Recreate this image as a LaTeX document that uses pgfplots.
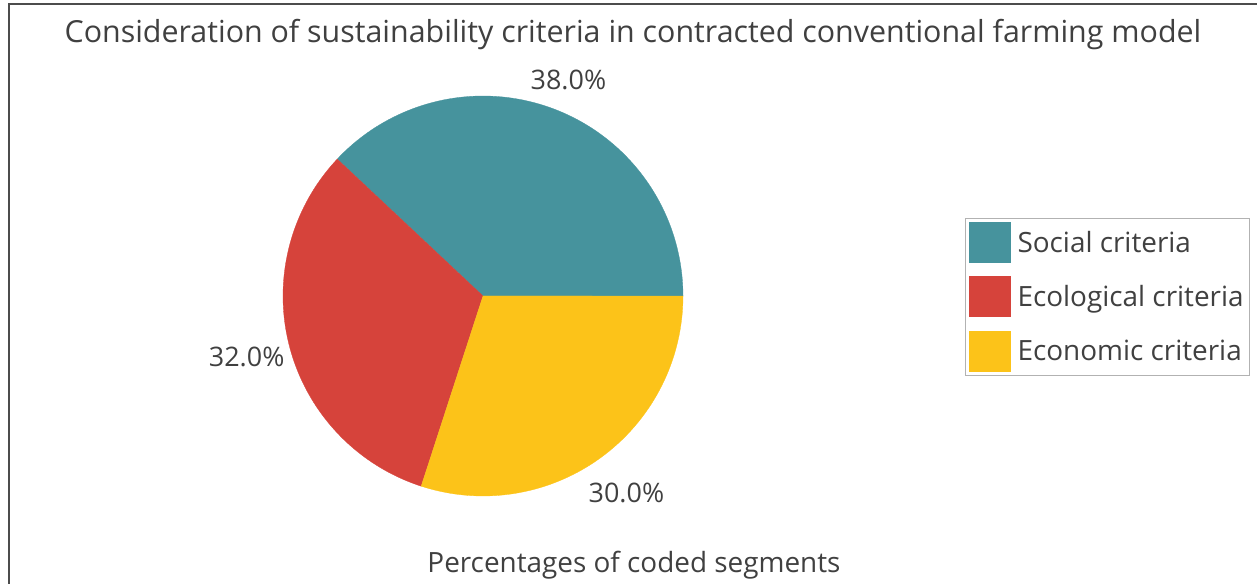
\documentclass[border=0pt]{standalone}
\usepackage{pgfplots}
\usepackage{pgfplotstable}
\pgfplotsset{compat=1.18}
\usepackage{fontspec}
\setmainfont{Open Sans}
\definecolor{socialc}{HTML}{46939D}
\definecolor{ecoc}{HTML}{D6433B}
\definecolor{econc}{HTML}{FCC319}
\definecolor{txt}{HTML}{404040}

\pgfplotstableread{
label value
{Social criteria} 38.0
{Ecological criteria} 32.0
{Economic criteria} 30.0
}\piedata

\pgfplotstablegetelem{0}{value}\of\piedata \let\vA\pgfplotsretval
\pgfplotstablegetelem{1}{value}\of\piedata \let\vB\pgfplotsretval
\pgfplotstablegetelem{2}{value}\of\piedata \let\vC\pgfplotsretval
\pgfmathsetmacro{\aA}{0}
\pgfmathsetmacro{\aB}{\aA+3.6*\vA}
\pgfmathsetmacro{\aC}{\aB+3.6*\vB}
\pgfmathsetmacro{\aD}{\aC+3.6*\vC}
\pgfmathsetmacro{\mA}{(\aA+\aB)/2}
\pgfmathsetmacro{\mB}{(\aB+\aC)/2}
\pgfmathsetmacro{\mC}{(\aC+\aD)/2}

\begin{document}
\begin{tikzpicture}[x=1bp,y=1bp]
\path[use as bounding box] (0,0) rectangle (1257,584);
\draw[color=black!70, line width=1.5bp] (9,0) -- (9,580) -- (1257,580);
\node[text=txt, font=\fontsize{30.5}{34}\selectfont] at (633,549) {Consideration of sustainability criteria in contracted conventional farming model};
\node[text=txt, font=\fontsize{28}{32}\selectfont] at (634,19) {Percentages of coded segments};
\begin{axis}[
  at={(483bp,288bp)}, anchor=origin,
  x=200bp, y=200bp,
  xmin=-1, xmax=1, ymin=-1, ymax=1,
  hide axis, clip=false,
  legend style={at={(axis cs:2.41,0.39)}, anchor=north west, draw=black!30,
    font=\fontsize{28}{32}\selectfont, text=txt, row sep=14bp, inner sep=4bp,
    /tikz/every odd column/.append style={column sep=5bp}},
  legend cell align=left,
  legend image code/.code={\fill[#1] (0bp,-20bp) rectangle (41bp,20bp);},
]
\addplot[fill=socialc, draw=socialc, line width=0.3bp, domain=\aA:\aB, samples=90] ({cos(x)},{sin(x)}) -- (axis cs:0,0) -- cycle;
\addlegendentry{Social criteria}
\addplot[fill=ecoc, draw=ecoc, line width=0.3bp, domain=\aB:\aC, samples=90] ({cos(x)},{sin(x)}) -- (axis cs:0,0) -- cycle;
\addlegendentry{Ecological criteria}
\addplot[fill=econc, draw=econc, line width=0.3bp, domain=\aC:\aD, samples=90] ({cos(x)},{sin(x)}) -- (axis cs:0,0) -- cycle;
\addlegendentry{Economic criteria}
\node[text=txt, font=\fontsize{27}{31}\selectfont] at (axis cs:{1.16*cos(\mA)},{1.16*sin(\mA)}) {\pgfmathprintnumber[fixed,fixed zerofill,precision=1,assume math mode=true]{\vA}\%};
\node[text=txt, font=\fontsize{27}{31}\selectfont] at (axis cs:{1.22*cos(\mB)},{1.22*sin(\mB)}) {\pgfmathprintnumber[fixed,fixed zerofill,precision=1,assume math mode=true]{\vB}\%};
\node[text=txt, font=\fontsize{27}{31}\selectfont] at (axis cs:{1.22*cos(\mC)},{1.22*sin(\mC)}) {\pgfmathprintnumber[fixed,fixed zerofill,precision=1,assume math mode=true]{\vC}\%};
\end{axis}
\end{tikzpicture}
\end{document}
